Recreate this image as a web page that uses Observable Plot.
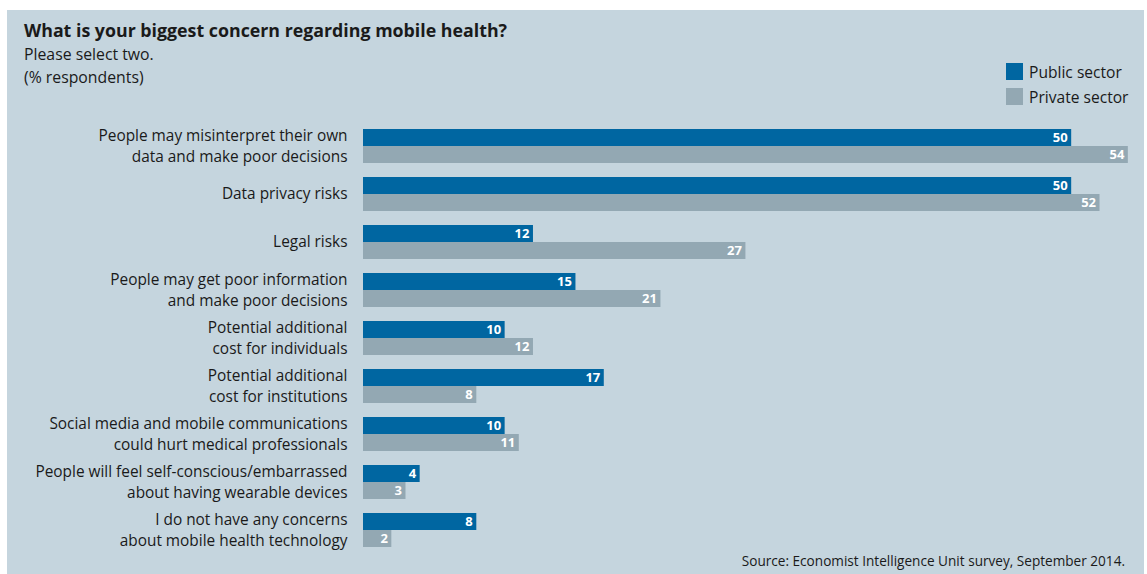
<!DOCTYPE html>
<html>
<head>
<meta charset="utf-8">
<script src="https://cdn.jsdelivr.net/npm/d3@7"></script>
<script src="https://cdn.jsdelivr.net/npm/@observablehq/plot@0.6"></script>
<style>
  html, body { margin: 0; padding: 0; background: #ffffff; width: 1147px; height: 574px; overflow: hidden; }
  body { font-family: "Open Sans", Lato, sans-serif; color: #1a1a1a; position: relative; }
  #panel { position: absolute; left: 7px; top: 10px; width: 1137px; height: 564px; background: #c5d5de; }
  #title { position: absolute; left: 24px; top: 18px; font-size: 17.8px; line-height: 24px; font-weight: bold; white-space: nowrap; }
  #sub { position: absolute; left: 24px; top: 43px; font-size: 15.8px; line-height: 23px; white-space: nowrap; }
  #legend { position: absolute; left: 1006px; top: 59px; font-size: 15.6px; }
  #legend .item { display: flex; align-items: center; height: 25px; }
  #legend .sw { width: 17px; height: 17px; margin-right: 6px; }
  #chart { position: absolute; left: 0; top: 129px; }
  #source { position: absolute; right: 22px; top: 551px; font-size: 13.6px; line-height: 20px; white-space: nowrap; }
</style>
</head>
<body>
<div id="panel"></div>
<div id="title">What is your biggest concern regarding mobile health?</div>
<div id="sub">Please select two.<br>(% respondents)</div>
<div id="legend"></div>
<div id="chart"></div>
<div id="source">Source: Economist Intelligence Unit survey, September 2014.</div>
<script>
const categories = [
  "People may misinterpret their own\ndata and make poor decisions",
  "Data privacy risks",
  "Legal risks",
  "People may get poor information\nand make poor decisions",
  "Potential additional\ncost for individuals",
  "Potential additional\ncost for institutions",
  "Social media and mobile communications\ncould hurt medical professionals",
  "People will feel self-conscious/embarrassed\nabout having wearable devices",
  "I do not have any concerns\nabout mobile health technology"
];
const series = ["Public sector", "Private sector"];
const publicValues = [50, 50, 12, 15, 10, 17, 10, 4, 8];
const privateValues = [54, 52, 27, 21, 12, 8, 11, 3, 2];
const colors = ["#0066a1", "#93a8b3"];

const data = [];
categories.forEach((c, i) => {
  data.push({category: c, series: series[0], value: publicValues[i]});
  data.push({category: c, series: series[1], value: privateValues[i]});
});

const legend = document.getElementById("legend");
series.forEach((s, i) => {
  const item = document.createElement("div");
  item.className = "item";
  const sw = document.createElement("div");
  sw.className = "sw";
  sw.style.background = colors[i];
  const t = document.createElement("span");
  t.textContent = s;
  item.appendChild(sw);
  item.appendChild(t);
  legend.appendChild(item);
});

const chart = Plot.plot({
  width: 1147,
  height: 418,
  marginLeft: 363,
  marginRight: 5,
  marginTop: 0,
  marginBottom: 0,
  style: {background: "transparent", fontFamily: "'Open Sans', Lato, sans-serif", overflow: "visible"},
  x: {domain: [0, 55], axis: null},
  fy: {domain: categories, padding: 14 / 48, axis: null},
  y: {domain: series, padding: 0, axis: null},
  color: {domain: series, range: colors},
  marks: [
    Plot.barX(data, {x: "value", y: "series", fy: "category", fill: "series"}),
    Plot.text(data, {
      x: "value", y: "series", fy: "category", text: d => String(d.value),
      textAnchor: "end", dx: -4, fill: "white", fontWeight: "bold", fontSize: 13
    }),
    Plot.text(categories, {
      fy: d => d, text: d => d, frameAnchor: "left", textAnchor: "end",
      lineAnchor: "middle", dx: -16, dy: -2, fontSize: 15.4, lineHeight: 1.38, fill: "#1a1a1a"
    })
  ]
});
document.getElementById("chart").appendChild(chart);
</script>
</body>
</html>
